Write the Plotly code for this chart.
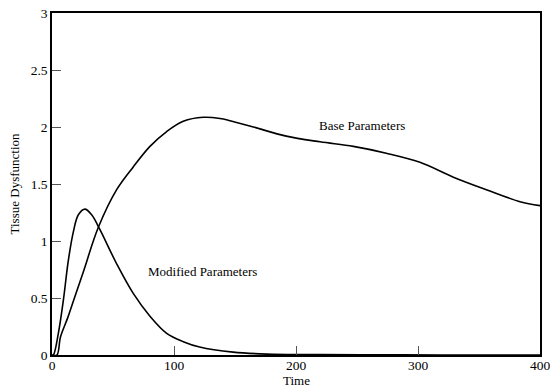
import plotly.graph_objects as go

base_t = [0, 4, 7, 13, 19, 26, 38, 53, 66.6, 80.3, 94, 107.6, 124, 137.7, 146, 165, 192, 219.7, 247, 274, 301.6, 329, 356, 383.6, 400]
base_y = [0, 0, 0.16, 0.33, 0.52, 0.74, 1.12, 1.45, 1.65, 1.83, 1.96, 2.05, 2.085, 2.075, 2.055, 2.0, 1.92, 1.87, 1.83, 1.77, 1.69, 1.56, 1.45, 1.345, 1.31]

mod_t = [0, 1.1, 5.2, 9.3, 13.4, 17.5, 21.6, 27, 32.5, 39.3, 53, 66.6, 80.3, 94, 107.6, 121, 148.5, 176, 220, 270, 320, 400]
mod_y = [0, 0, 0.19, 0.48, 0.83, 1.08, 1.23, 1.28, 1.23, 1.10, 0.80, 0.54, 0.34, 0.19, 0.117, 0.07, 0.025, 0.008, 0.003, 0.001, 0.0005, 0.0]

x_ticks = [0, 100, 200, 300, 400]
y_ticks = [0, 0.5, 1, 1.5, 2, 2.5, 3]
y_tick_labels = ["0", "0.5", "1", "1.5", "2", "2.5", "3"]

serif = "Liberation Serif"
font = dict(family=serif, size=13, color="black")
tickfont = dict(family=serif, size=13.5, color="black")
titlefont = dict(family=serif, size=13, color="black")

fig = go.Figure()
for t, y in ((base_t, base_y), (mod_t, mod_y)):
    fig.add_trace(go.Scatter(x=t, y=y, mode="lines",
                             line=dict(color="black", width=1.6, shape="spline", smoothing=1.0),
                             showlegend=False, hoverinfo="skip", cliponaxis=True))

fig.add_annotation(x=254, y=2.01, text="Base Parameters", showarrow=False, font=font)
fig.add_annotation(x=123.4, y=0.73, text="Modified Parameters", showarrow=False, font=font)
fig.add_annotation(x=0.5, y=0, xref="paper", yref="paper", yanchor="middle", yshift=-25,
                   text="Time", showarrow=False, font=titlefont)

axis_common = dict(ticks="inside", ticklen=9, tickwidth=1, tickcolor="#555555",
                   showline=True, linecolor="black", linewidth=1.6, mirror=True,
                   showgrid=False, zeroline=False, tickfont=tickfont, automargin=False,
                   ticklabeloverflow="allow")

fig.update_layout(
    width=550, height=390,
    margin=dict(l=52, r=10, t=13, b=35),
    paper_bgcolor="white", plot_bgcolor="white",
    font=font,
    xaxis=dict(range=[0, 400], tickvals=x_ticks, ticklabelstandoff=-3, **axis_common),
    yaxis=dict(range=[0, 3], tickvals=y_ticks, ticktext=y_tick_labels,
               title=dict(text="Tissue Dysfunction", standoff=8, font=titlefont),
               **axis_common),
)

fig.write_html("out.html")
